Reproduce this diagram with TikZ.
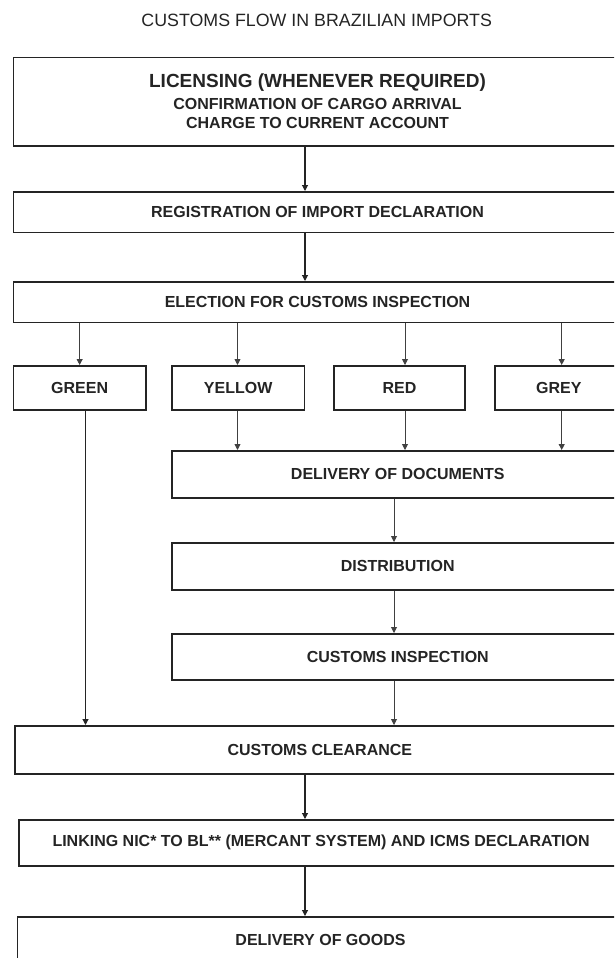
\documentclass[tikz,border=0pt]{standalone}
\usepackage{fontspec}
\setmainfont{Liberation Sans}
\usetikzlibrary{arrows.meta}
\definecolor{ink}{HTML}{242424}
\definecolor{wire}{HTML}{404040}

\begin{document}
\begin{tikzpicture}[
  x=1pt, y=-1pt,
  every node/.style={text=ink, font=\bfseries\fontsize{16}{19}\selectfont},
  box/.style={draw=ink, line width=1.6pt, anchor=north west, inner sep=0pt, align=center},
  arr/.style={draw=ink, line width=1.1pt, -{Triangle[length=6pt,width=6pt]}},
  branch/.style={draw=wire, line width=0.9pt, -{Triangle[length=6pt,width=6pt]}},
  ]

\useasboundingbox (0,0) rectangle (614,958);
\clip (0,0) rectangle (614,958);

% title
\node[font=\fontsize{17.8}{20}\selectfont] (title) at (316.7,20) {CUSTOMS FLOW IN BRAZILIAN IMPORTS};

% main column
\node[box, minimum width=608, minimum height=88.3] (lic) at (12.7,56.7)
  {{\fontsize{19}{19}\selectfont LICENSING (WHENEVER REQUIRED)}\\[3pt]
   CONFIRMATION OF CARGO ARRIVAL\\ CHARGE TO CURRENT ACCOUNT};
\node[box, minimum width=608, minimum height=40.5] (reg) at (12.7,191) {REGISTRATION OF IMPORT DECLARATION};
\node[box, minimum width=608, minimum height=40.5] (elect) at (12.7,281) {ELECTION FOR CUSTOMS INSPECTION};

% channels
\node[box, minimum width=132.3, minimum height=44] (green) at (12.7,365) {GREEN};
\node[box, minimum width=132.7, minimum height=44] (yellow) at (171,365) {YELLOW};
\node[box, minimum width=130.7, minimum height=44] (red) at (333.3,365) {RED};
\node[box, minimum width=128, minimum height=44] (grey) at (494,365) {GREY};

% inspection path
\node[box, minimum width=452, minimum height=47] (docs) at (171,450) {DELIVERY OF DOCUMENTS};
\node[box, minimum width=452, minimum height=47] (dist) at (171,542) {DISTRIBUTION};
\node[box, minimum width=452, minimum height=46] (insp) at (171,633) {CUSTOMS INSPECTION};

% end of flow
\node[box, minimum width=610, minimum height=48] (clear) at (14,725) {CUSTOMS CLEARANCE};
\node[box, minimum width=604, minimum height=46] (link) at (18.3,819) {LINKING NIC* TO BL** (MERCANT SYSTEM) AND ICMS DECLARATION};
\node[box, minimum width=606, minimum height=46] (goods) at (16.7,916) {DELIVERY OF GOODS};

\coordinate (spine) at (305,0);
\coordinate (docx) at (394,0);
\coordinate (gx) at (85.5,0);
\coordinate (yx) at (237.5,0);
\coordinate (rx) at (405,0);
\coordinate (greyx) at (561.7,0);

\draw[arr] (lic.south -| spine) -- (reg.north -| spine);
\draw[arr] (reg.south -| spine) -- (elect.north -| spine);

\draw[branch] (elect.south -| green.north) -- (green.north);
\draw[branch] (elect.south -| yx) -- (yellow.north -| yx);
\draw[branch] (elect.south -| rx) -- (red.north -| rx);
\draw[branch] (elect.south -| greyx) -- (grey.north -| greyx);

\draw[arr] (green.south -| gx) -- (clear.north -| gx);
\draw[branch] (yellow.south -| yx) -- (docs.north -| yx);
\draw[branch] (red.south -| rx) -- (docs.north -| rx);
\draw[branch] (grey.south -| greyx) -- (docs.north -| greyx);

\draw[branch] (docs.south -| docx) -- (dist.north -| docx);
\draw[branch] (dist.south -| docx) -- (insp.north -| docx);
\draw[branch] (insp.south -| docx) -- (clear.north -| docx);

\draw[arr] (clear.south -| spine) -- (link.north -| spine);
\draw[arr] (link.south -| spine) -- (goods.north -| spine);

\end{tikzpicture}
\end{document}
